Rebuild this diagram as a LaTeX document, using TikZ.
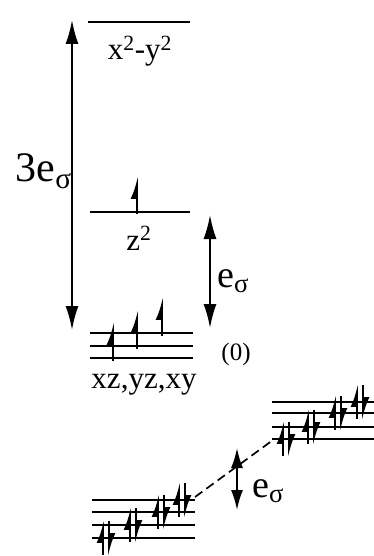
\documentclass[tikz,border=0pt]{standalone}
\usepackage{fontspec}
\setmainfont{Liberation Serif}
\usetikzlibrary{arrows.meta, calc}

\begin{document}
\begin{tikzpicture}[x=1pt, y=-1pt,
  level/.style={line width=2.8pt},
  gap/.style={line width=1.8pt, {Latex[length=24pt,width=13pt]}-{Latex[length=24pt,width=13pt]}},
  smallgap/.style={line width=1.8pt, {Latex[length=20pt,width=12pt]}-{Latex[length=20pt,width=12pt]}},
  spinup/.style={line width=1.8pt, -{Latex[left,length=19pt,width=13pt]}},
  lab/.style={font=\fontsize{31}{32}\selectfont, inner sep=0pt}]
  \useasboundingbox (0,0) rectangle (374,556);
  % d levels of the ion
  \coordinate (dx2-l) at (88,22);  \coordinate (dx2-r) at (190,22);
  \coordinate (dz2-l) at (90,212); \coordinate (dz2-r) at (190,212);
  \draw[level] (dx2-l) -- (dx2-r);
  \draw[level] (dz2-l) -- (dz2-r);
  \node[lab, anchor=base] (lab-dx2) at (140,60) {x\textsuperscript{2}-y\textsuperscript{2}};
  \node[lab, anchor=base] (lab-dz2) at (139,250) {z\textsuperscript{2}};
  \draw[spinup] ($(dz2-l)!0.47!(dz2-r)+(0,2)$) -- ++(0,-38);
  \foreach \y/\x in {333/162, 346/137, 358/113} {
    \draw[level] (90,\y) -- (193,\y);
    \draw[spinup] (\x,\y+3) -- (\x,\y-36);
  }
  \node[lab, anchor=base] (lab-t2g) at (144,388) {xz,yz,xy};
  \node[font=\fontsize{25}{26}\selectfont, inner sep=0pt] (zero) at (236,354) {(0)};
  % splittings
  \coordinate (big-top) at (72,20);  \coordinate (big-bot) at (72,330);
  \draw[gap] (big-top) -- (big-bot);
  \node[font=\fontsize{42}{43}\selectfont, anchor=base east, inner sep=0pt] (lab-3e) at (72,182) {3e\textsubscript{σ}};
  \coordinate (e-top) at (210,215);  \coordinate (e-bot) at (210,328);
  \draw[gap] (e-top) -- (e-bot);
  \node[font=\fontsize{38}{39}\selectfont, anchor=base west, inner sep=0pt] (lab-e) at (217,287) {e\textsubscript{σ}};
  % band ladders
  \foreach \y/\x in {500/179, 512/158, 525/130, 538/103} {
    \draw[level] (92,\y) -- (195,\y);
    \draw[spinup] (\x,\y+17) -- (\x,\y-18);
    \draw[spinup] (\x+6,\y-17) -- (\x+6,\y+18);
  }
  \foreach \y/\x in {402/357, 413/335, 427/308, 439/283} {
    \draw[level] (272,\y) -- (374,\y);
    \draw[spinup] (\x,\y+17) -- (\x,\y-18);
    \draw[spinup] (\x+6,\y-17) -- (\x+6,\y+18);
  }
  \coordinate (lo-end) at (195,497); \coordinate (hi-end) at (273,440);
  \draw[line width=1.7pt, dash pattern=on 9pt off 5pt] (lo-end) -- (hi-end);
  \coordinate (b-top) at (237,448); \coordinate (b-bot) at (237,510);
  \draw[smallgap] (b-top) -- (b-bot);
  \node[font=\fontsize{38}{39}\selectfont, anchor=base west, inner sep=0pt] (lab-eb) at (252,497) {e\textsubscript{σ}};
\end{tikzpicture}
\end{document}
